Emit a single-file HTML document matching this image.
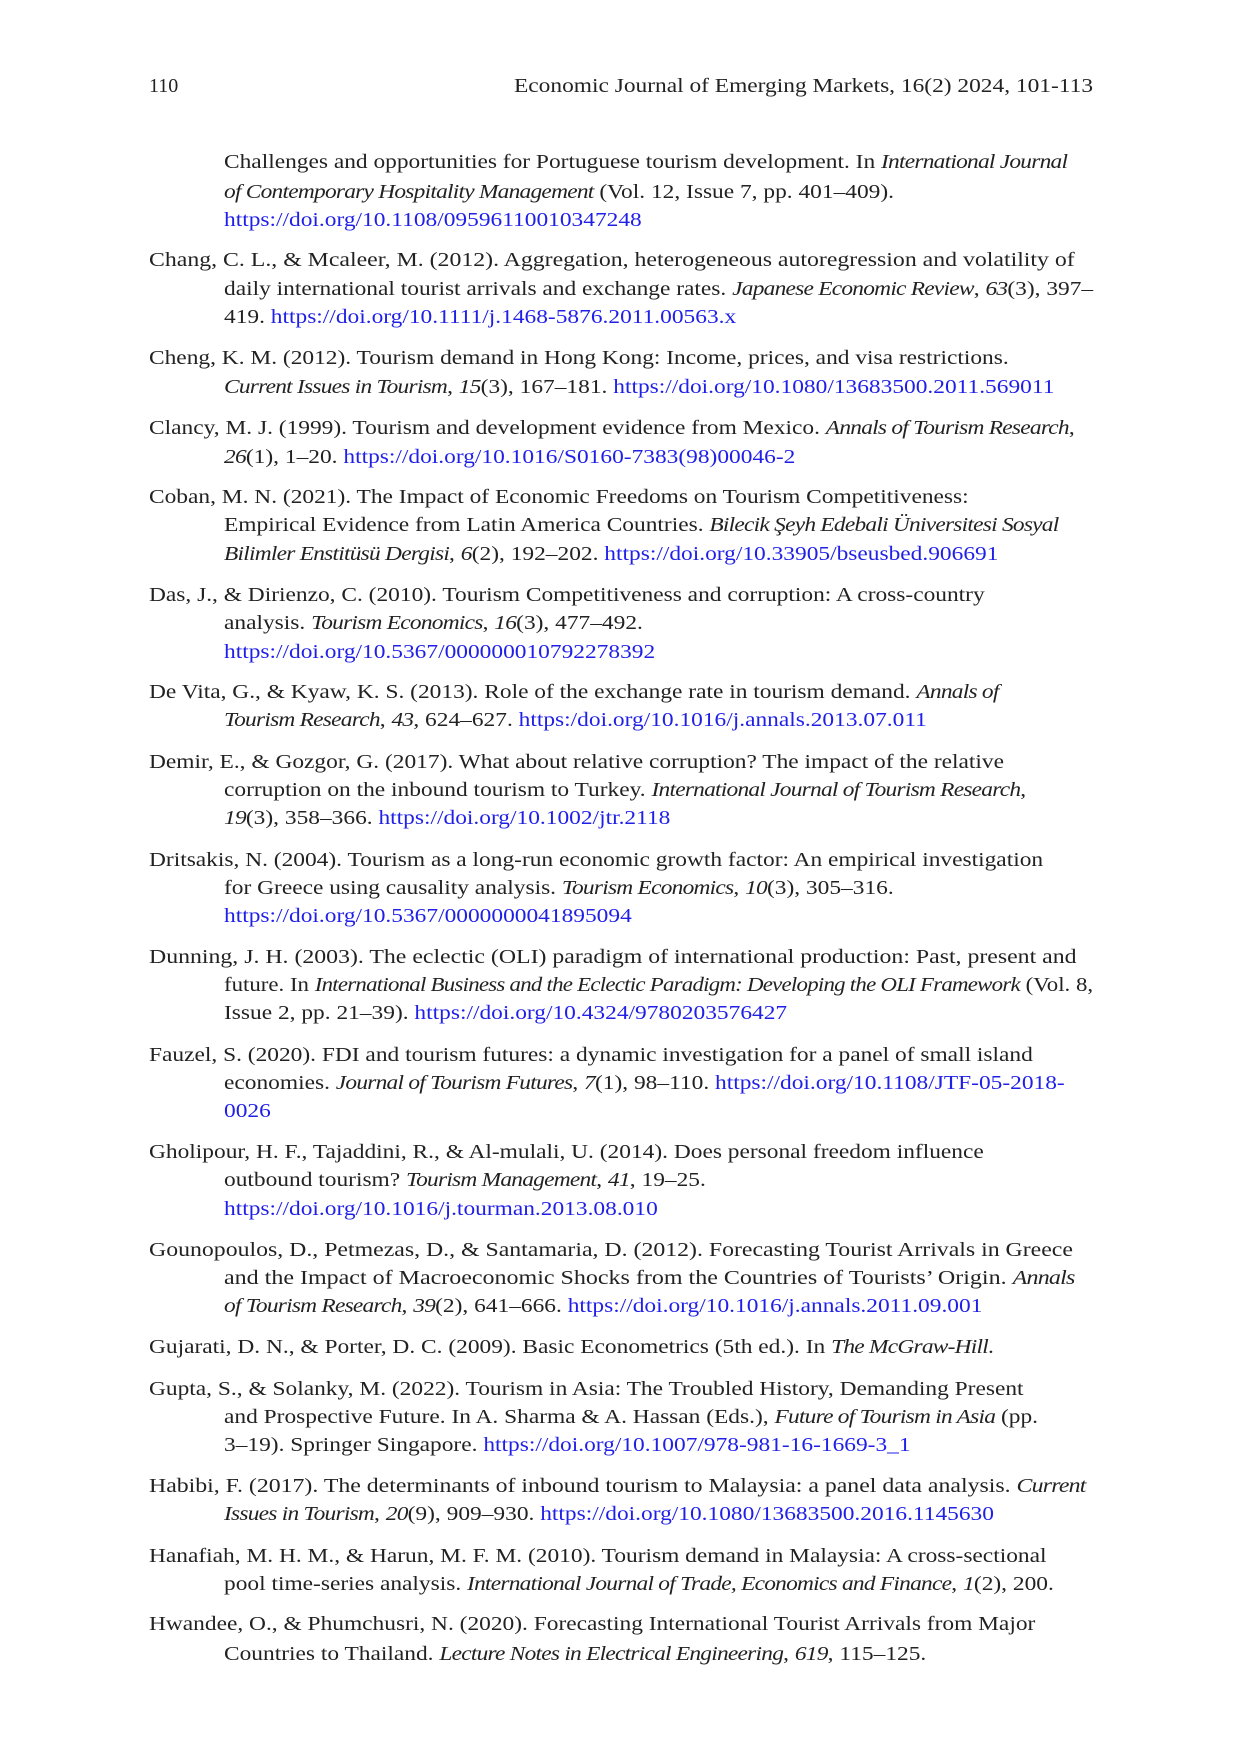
<!DOCTYPE html>
<html><head><meta charset="utf-8"><style>
html,body{margin:0;padding:0;background:#fff;}
body{width:1240px;height:1754px;position:relative;overflow:hidden;font-family:"Liberation Serif",serif;font-size:20px;color:#222;}
.l{position:absolute;white-space:nowrap;line-height:28px;height:28px;transform:scaleX(1.17);transform-origin:0 50%;}
.a{left:149px}.b{left:224px}
a{color:#1f1fe8;text-decoration:none}
i{font-style:italic;letter-spacing:-0.65px}
</style></head><body>
<div class="l a" style="top:72px;transform:none">110</div>
<div class="l" style="top:72px;left:514px">Economic Journal of Emerging Markets, 16(2) 2024, 101-113</div>

<div class="l b" style="top:148px">Challenges and opportunities for Portuguese tourism development. In <i>International Journal</i></div>
<div class="l b" style="top:178px"><i>of Contemporary Hospitality Management</i> (Vol. 12, Issue 7, pp. 401–409).</div>
<div class="l b" style="top:206px"><a>https://doi.org/10.1108/09596110010347248</a></div>

<div class="l a" style="top:246px;transform:scaleX(1.19)">Chang, C. L., &amp; Mcaleer, M. (2012). Aggregation, heterogeneous autoregression and volatility of</div>
<div class="l b" style="top:275px">daily international tourist arrivals and exchange rates. <i>Japanese Economic Review</i>, <i>63</i>(3), 397–</div>
<div class="l b" style="top:303px">419. <a>https://doi.org/10.1111/j.1468-5876.2011.00563.x</a></div>

<div class="l a" style="top:344px">Cheng, K. M. (2012). Tourism demand in Hong Kong: Income, prices, and visa restrictions.</div>
<div class="l b" style="top:373px"><i>Current Issues in Tourism</i>, <i>15</i>(3), 167–181. <a>https://doi.org/10.1080/13683500.2011.569011</a></div>

<div class="l a" style="top:414px">Clancy, M. J. (1999). Tourism and development evidence from Mexico. <i>Annals of Tourism Research</i>,</div>
<div class="l b" style="top:443px"><i>26</i>(1), 1–20. <a>https://doi.org/10.1016/S0160-7383(98)00046-2</a></div>

<div class="l a" style="top:483px">Coban, M. N. (2021). The Impact of Economic Freedoms on Tourism Competitiveness:</div>
<div class="l b" style="top:511px">Empirical Evidence from Latin America Countries. <i>Bilecik Şeyh Edebali Üniversitesi Sosyal</i></div>
<div class="l b" style="top:540px"><i>Bilimler Enstitüsü Dergisi</i>, <i>6</i>(2), 192–202. <a>https://doi.org/10.33905/bseusbed.906691</a></div>

<div class="l a" style="top:581px">Das, J., &amp; Dirienzo, C. (2010). Tourism Competitiveness and corruption: A cross-country</div>
<div class="l b" style="top:609px">analysis. <i>Tourism Economics</i>, <i>16</i>(3), 477–492.</div>
<div class="l b" style="top:638px"><a>https://doi.org/10.5367/000000010792278392</a></div>

<div class="l a" style="top:678px">De Vita, G., &amp; Kyaw, K. S. (2013). Role of the exchange rate in tourism demand. <i>Annals of</i></div>
<div class="l b" style="top:706px"><i>Tourism Research</i>, <i>43</i>, 624–627. <a>https:/doi.org/10.1016/j.annals.2013.07.011</a></div>

<div class="l a" style="top:748px">Demir, E., &amp; Gozgor, G. (2017). What about relative corruption? The impact of the relative</div>
<div class="l b" style="top:776px">corruption on the inbound tourism to Turkey. <i>International Journal of Tourism Research</i>,</div>
<div class="l b" style="top:804px"><i>19</i>(3), 358–366. <a>https://doi.org/10.1002/jtr.2118</a></div>

<div class="l a" style="top:846px">Dritsakis, N. (2004). Tourism as a long-run economic growth factor: An empirical investigation</div>
<div class="l b" style="top:874px">for Greece using causality analysis. <i>Tourism Economics</i>, <i>10</i>(3), 305–316.</div>
<div class="l b" style="top:902px"><a>https://doi.org/10.5367/0000000041895094</a></div>

<div class="l a" style="top:943px;transform:scaleX(1.19)">Dunning, J. H. (2003). The eclectic (OLI) paradigm of international production: Past, present and</div>
<div class="l b" style="top:971px;transform:scaleX(1.142)">future. In <i>International Business and the Eclectic Paradigm: Developing the OLI Framework</i> (Vol. 8,</div>
<div class="l b" style="top:999px">Issue 2, pp. 21–39). <a>https://doi.org/10.4324/9780203576427</a></div>

<div class="l a" style="top:1041px">Fauzel, S. (2020). FDI and tourism futures: a dynamic investigation for a panel of small island</div>
<div class="l b" style="top:1069px">economies. <i>Journal of Tourism Futures</i>, <i>7</i>(1), 98–110. <a>https://doi.org/10.1108/JTF-05-2018-</a></div>
<div class="l b" style="top:1097px"><a>0026</a></div>

<div class="l a" style="top:1138px">Gholipour, H. F., Tajaddini, R., &amp; Al-mulali, U. (2014). Does personal freedom influence</div>
<div class="l b" style="top:1166px">outbound tourism? <i>Tourism Management</i>, <i>41</i>, 19–25.</div>
<div class="l b" style="top:1195px"><a>https://doi.org/10.1016/j.tourman.2013.08.010</a></div>

<div class="l a" style="top:1236px;transform:scaleX(1.19)">Gounopoulos, D., Petmezas, D., &amp; Santamaria, D. (2012). Forecasting Tourist Arrivals in Greece</div>
<div class="l b" style="top:1264px;transform:scaleX(1.2)">and the Impact of Macroeconomic Shocks from the Countries of Tourists’ Origin. <i>Annals</i></div>
<div class="l b" style="top:1292px"><i>of Tourism Research</i>, <i>39</i>(2), 641–666. <a>https://doi.org/10.1016/j.annals.2011.09.001</a></div>

<div class="l a" style="top:1333px">Gujarati, D. N., &amp; Porter, D. C. (2009). Basic Econometrics (5th ed.). In <i>The McGraw-Hill</i>.</div>

<div class="l a" style="top:1375px">Gupta, S., &amp; Solanky, M. (2022). Tourism in Asia: The Troubled History, Demanding Present</div>
<div class="l b" style="top:1403px">and Prospective Future. In A. Sharma &amp; A. Hassan (Eds.), <i>Future of Tourism in Asia</i> (pp.</div>
<div class="l b" style="top:1431px">3–19). Springer Singapore. <a>https://doi.org/10.1007/978-981-16-1669-3_1</a></div>

<div class="l a" style="top:1472px;transform:scaleX(1.19)">Habibi, F. (2017). The determinants of inbound tourism to Malaysia: a panel data analysis. <i>Current</i></div>
<div class="l b" style="top:1500px"><i>Issues in Tourism</i>, <i>20</i>(9), 909–930. <a>https://doi.org/10.1080/13683500.2016.1145630</a></div>

<div class="l a" style="top:1542px">Hanafiah, M. H. M., &amp; Harun, M. F. M. (2010). Tourism demand in Malaysia: A cross-sectional</div>
<div class="l b" style="top:1570px">pool time-series analysis. <i>International Journal of Trade, Economics and Finance</i>, <i>1</i>(2), 200.</div>

<div class="l a" style="top:1610px">Hwandee, O., &amp; Phumchusri, N. (2020). Forecasting International Tourist Arrivals from Major</div>
<div class="l b" style="top:1640px">Countries to Thailand. <i>Lecture Notes in Electrical Engineering</i>, <i>619</i>, 115–125.</div>
</body></html>
